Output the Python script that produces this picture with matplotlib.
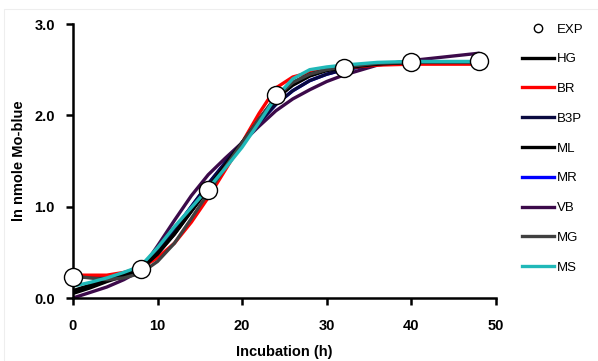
import numpy as np
import matplotlib.pyplot as plt
from matplotlib.lines import Line2D
from matplotlib.patches import Rectangle

plt.rcParams['font.family'] = ['Liberation Sans', 'DejaVu Sans']

# experimental points
t_exp = [0, 8, 16, 24, 32, 40, 48]
exp = [0.23, 0.32, 1.18, 2.22, 2.52, 2.58, 2.59]

# model curves
t = [0, 2, 4, 6, 8, 10, 12, 14, 16, 18, 20, 22, 24, 26, 28, 30, 32, 36, 40, 44, 48]
hg = [0.08, 0.14, 0.20, 0.25, 0.32, 0.48, 0.70, 0.95, 1.20, 1.45, 1.70, 1.95, 2.20,
      2.36, 2.45, 2.50, 2.53, 2.57, 2.58, 2.58, 2.58]
br = [0.25, 0.25, 0.25, 0.28, 0.33, 0.44, 0.60, 0.83, 1.10, 1.40, 1.70, 2.02, 2.30,
      2.42, 2.47, 2.50, 2.52, 2.55, 2.56, 2.56, 2.56]
b3p = [0.24, 0.23, 0.22, 0.26, 0.33, 0.52, 0.75, 1.00, 1.25, 1.48, 1.70, 1.92, 2.12,
       2.27, 2.38, 2.45, 2.50, 2.56, 2.58, 2.58, 2.58]
ml = [0.05, 0.11, 0.18, 0.24, 0.31, 0.49, 0.70, 0.95, 1.20, 1.45, 1.70, 1.95, 2.18,
      2.33, 2.43, 2.49, 2.52, 2.56, 2.58, 2.58, 2.58]
mr = [0.24, 0.23, 0.22, 0.26, 0.33, 0.52, 0.75, 1.00, 1.25, 1.48, 1.70, 1.92, 2.12,
      2.27, 2.38, 2.45, 2.50, 2.56, 2.58, 2.58, 2.58]
vb = [0.00, 0.06, 0.12, 0.20, 0.30, 0.57, 0.85, 1.12, 1.35, 1.53, 1.70, 1.88, 2.05,
      2.18, 2.28, 2.37, 2.44, 2.55, 2.60, 2.64, 2.68]
mg = [0.24, 0.22, 0.20, 0.22, 0.27, 0.40, 0.60, 0.87, 1.15, 1.43, 1.70, 1.96, 2.20,
      2.36, 2.45, 2.50, 2.53, 2.57, 2.58, 2.58, 2.58]
ms = [0.13, 0.17, 0.22, 0.28, 0.35, 0.55, 0.78, 0.99, 1.20, 1.42, 1.65, 1.92, 2.20,
      2.40, 2.50, 2.53, 2.55, 2.58, 2.59, 2.59, 2.59]

series = [('HG', hg, 'black'), ('BR', br, '#ff0000'), ('B3P', b3p, '#0a0a40'),
          ('ML', ml, 'black'), ('MR', mr, '#0000ff'), ('VB', vb, '#3c0a4a'),
          ('MG', mg, '#404040'), ('MS', ms, '#20b8b8')]

fig = plt.figure(figsize=(5.98, 3.61), dpi=100)
fig.patches.append(Rectangle((4 / 598, 0), 1, 1 - 9 / 361, transform=fig.transFigure,
                             fill=False, edgecolor='#eeeeee', lw=0.8))
ax = fig.add_axes([0.122, 0.1745, 0.707, 0.759])

# draw order so the visible layering matches
order = ['MR', 'VB', 'B3P', 'BR', 'ML', 'HG', 'MG', 'MS']
lookup = {n: (v, c) for n, v, c in series}
for n in order:
    v, c = lookup[n]
    ax.plot(t, v, color=c, lw=2.4, solid_capstyle='round', solid_joinstyle='round')
ax.plot(t_exp, exp, 'o', ms=13, mfc='white', mec='black', mew=1.0, zorder=10, clip_on=False)

ax.set_xlim(0, 50)
ax.set_ylim(0, 3.0)
ax.set_xticks([0, 10, 20, 30, 40, 50])
ax.set_yticks([0, 1, 2, 3])
ax.set_yticklabels(['0.0', '1.0', '2.0', '3.0'])
for s in ['top', 'right']:
    ax.spines[s].set_visible(False)
for s in ['left', 'bottom']:
    ax.spines[s].set_linewidth(1.8)
ax.tick_params(direction='out', length=5, width=1.8, labelsize=10.5)
ax.tick_params(axis='x', pad=10)
ax.tick_params(axis='y', pad=8)
for lab in ax.get_xticklabels() + ax.get_yticklabels():
    lab.set_fontweight('bold')
ax.set_xlabel('Incubation (h)', fontsize=10.5, fontweight='bold', labelpad=9)
ax.set_ylabel('ln nmole Mo-blue', fontsize=10.5, fontweight='bold', labelpad=6)

handles = [Line2D([], [], ls='none', marker='o', ms=6, mfc='white', mec='black', mew=1.0)]
labels = ['EXP']
for n, v, c in series:
    handles.append(Line2D([], [], color=c, lw=2.4))
    labels.append(n)
fig.legend(handles, labels, loc='upper left', bbox_to_anchor=(517 / 598, 1 - 18 / 361),
           frameon=False, fontsize=9.5, handlelength=2.4, handletextpad=0.25,
           labelspacing=1.33, borderaxespad=0)

fig.savefig('out.png', dpi=100)
